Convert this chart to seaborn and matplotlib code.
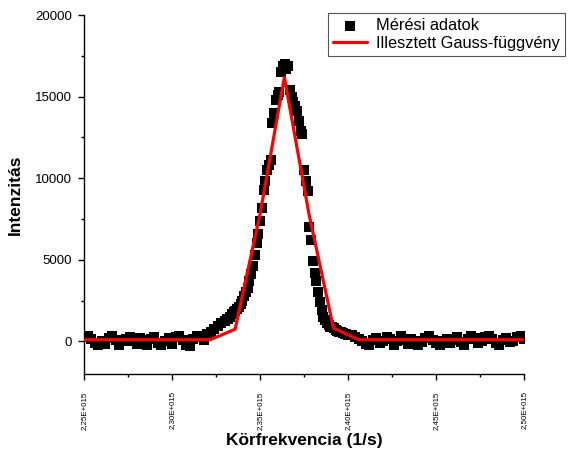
import matplotlib
matplotlib.use("Agg")
import matplotlib.pyplot as plt
import matplotlib.ticker as mticker
import seaborn as sns
import pandas as pd

# Measured spectrum: angular frequency (in units of 1e15 1/s) and intensity
freq = [
    2.250, 2.252, 2.254, 2.256, 2.258, 2.260, 2.262, 2.264, 2.266, 2.268,
    2.270, 2.272, 2.274, 2.276, 2.278, 2.280, 2.282, 2.284, 2.286, 2.288,
    2.290, 2.292, 2.294, 2.296, 2.298, 2.300, 2.302, 2.304, 2.306, 2.308,
    2.310, 2.312, 2.314, 2.316, 2.318, 2.320, 2.322, 2.324, 2.326, 2.328,
    2.330, 2.331, 2.332, 2.333, 2.334, 2.335, 2.336, 2.337, 2.338, 2.339,
    2.340, 2.341, 2.342, 2.343, 2.344, 2.345, 2.346, 2.347, 2.348, 2.349,
    2.350, 2.351, 2.352, 2.353, 2.354, 2.355, 2.356, 2.357, 2.358, 2.359,
    2.360, 2.361, 2.362, 2.363, 2.364, 2.365, 2.366, 2.367, 2.368, 2.369,
    2.370, 2.371, 2.372, 2.373, 2.374, 2.375, 2.376, 2.377, 2.378, 2.379,
    2.380, 2.381, 2.382, 2.383, 2.384, 2.385, 2.386, 2.387, 2.388, 2.389,
    2.390, 2.391, 2.392, 2.393, 2.394, 2.395, 2.396, 2.397, 2.398, 2.399,
    2.400, 2.402, 2.404, 2.406, 2.408, 2.410, 2.412, 2.414, 2.416, 2.418,
    2.420, 2.422, 2.424, 2.426, 2.428, 2.430, 2.432, 2.434, 2.436, 2.438,
    2.440, 2.442, 2.444, 2.446, 2.448, 2.450, 2.452, 2.454, 2.456, 2.458,
    2.460, 2.462, 2.464, 2.466, 2.468, 2.470, 2.472, 2.474, 2.476, 2.478,
    2.480, 2.482, 2.484, 2.486, 2.488, 2.490, 2.492, 2.494, 2.496, 2.498,
    2.500,
]
intensity = [
    280, 350, 150, -100, -200, 50, -150, 200, 320, 100,
    -250, 0, 150, 250, 50, -150, 220, 100, -200, 120,
    280, -100, -250, 50, 180, -150, 250, 350, 100, -200,
    -300, 150, 300, 250, 100, 450, 600, 750, 950, 1100,
    1250, 1350, 1400, 1500, 1650, 1800, 1850, 2000, 2100, 2300,
    2500, 2800, 3050, 3300, 3700, 4100, 4600, 5300, 6000, 6600,
    7400, 8200, 9300, 9800, 10500, 10800, 11100, 13400, 14000, 14800,
    15100, 15300, 16500, 16900, 17000, 16700, 16900, 15400, 15000, 14700,
    14400, 14100, 13500, 12900, 12700, 10500, 9800, 9200, 7000, 6200,
    4900, 4200, 3700, 3000, 2400, 1900, 1500, 1300, 1150, 1000,
    900, 850, 800, 700, 650, 600, 550, 500, 480, 450,
    420, 380, 250, 150, 50, -150, -250, 100, 200, -100,
    50, 250, 150, -200, 0, 300, 100, -150, 150, 50,
    -250, -50, 200, 300, 100, -100, -200, 50, 150, -100,
    100, 250, -50, -200, 150, 300, 200, -100, 0, 250,
    350, 150, -100, -200, 100, 200, -50, 50, 250, 300,
    150,
]

# Fitted Gaussian, evaluated on a coarse grid
fit_freq = [2.2500, 2.2790, 2.3074, 2.3216, 2.3358, 2.3500, 2.3638,
            2.3778, 2.3917, 2.4059, 2.4500, 2.5000]
fit_intensity = [100, 100, 100, 100, 740, 7800, 16180,
                 7800, 820, 100, 100, 100]

x_ticks = [2.25, 2.30, 2.35, 2.40, 2.45, 2.50]
y_ticks = [0, 5000, 10000, 15000, 20000]

SCALE = 1e15

data = pd.DataFrame({"f": [v * SCALE for v in freq], "I": intensity})
fit = pd.DataFrame({"f": [v * SCALE for v in fit_freq], "I": fit_intensity})

sns.set_style("ticks")
plt.rcParams["font.family"] = ["Liberation Sans", "DejaVu Sans"]
plt.rcParams["text.color"] = "black"
plt.rcParams["axes.labelcolor"] = "black"
plt.rcParams["xtick.color"] = "black"
plt.rcParams["ytick.color"] = "black"

fig = plt.figure(figsize=(5.68, 4.58), dpi=100)
ax = fig.add_axes([0.148, 0.1834, 0.7746, 0.7838])

sns.scatterplot(data=data, x="f", y="I", marker="s", s=44, color="black",
                linewidth=0, ax=ax, label="Mérési adatok", zorder=2)
sns.lineplot(data=fit, x="f", y="I", sort=False, estimator=None,
             color="#ff0000", linewidth=2.3, ax=ax,
             label="Illesztett Gauss-függvény", zorder=3)

ax.set_xlim(2.25 * SCALE, 2.50 * SCALE)
ax.set_ylim(-2000, 20000)
ax.set_xticks([t * SCALE for t in x_ticks])
ax.set_yticks(y_ticks)
ax.xaxis.set_minor_locator(mticker.MultipleLocator(0.025 * SCALE))
ax.yaxis.set_minor_locator(mticker.MultipleLocator(2500))


def fmt_freq(v, pos):
    return f"{v / SCALE:.2f}".replace(".", ",") + "E+015"


ax.xaxis.set_major_formatter(mticker.FuncFormatter(fmt_freq))
ax.tick_params(axis="x", which="major", labelsize=5.7, labelrotation=90,
               length=4.5, width=1, pad=8, direction="out", colors="black")
ax.tick_params(axis="y", which="major", labelsize=9.5, length=4.5, width=1,
               pad=4, direction="out", colors="black")
ax.tick_params(which="minor", length=2.5, width=1, direction="out",
               colors="black")

for side in ("top", "right"):
    ax.spines[side].set_visible(False)
for side in ("left", "bottom"):
    ax.spines[side].set_linewidth(1.0)
    ax.spines[side].set_color("black")

ax.set_xlabel("Körfrekvencia (1/s)", fontsize=12.5, fontweight="bold",
              labelpad=2, color="black")
ax.set_ylabel("Intenzitás", fontsize=12.5, fontweight="bold", labelpad=9,
              color="black")

leg = ax.legend(loc="upper right", bbox_to_anchor=(565 / 568, 1 - 13 / 458),
                bbox_transform=fig.transFigure, borderaxespad=0,
                fontsize=11.8, frameon=True, fancybox=False, framealpha=1,
                edgecolor="#555555", handlelength=2.1, handletextpad=0.55,
                borderpad=0.3, labelspacing=0.2, markerscale=1.0)
leg.get_frame().set_linewidth(0.8)
for t in leg.get_texts():
    t.set_color("black")

fig.savefig("out.png", dpi=100)
